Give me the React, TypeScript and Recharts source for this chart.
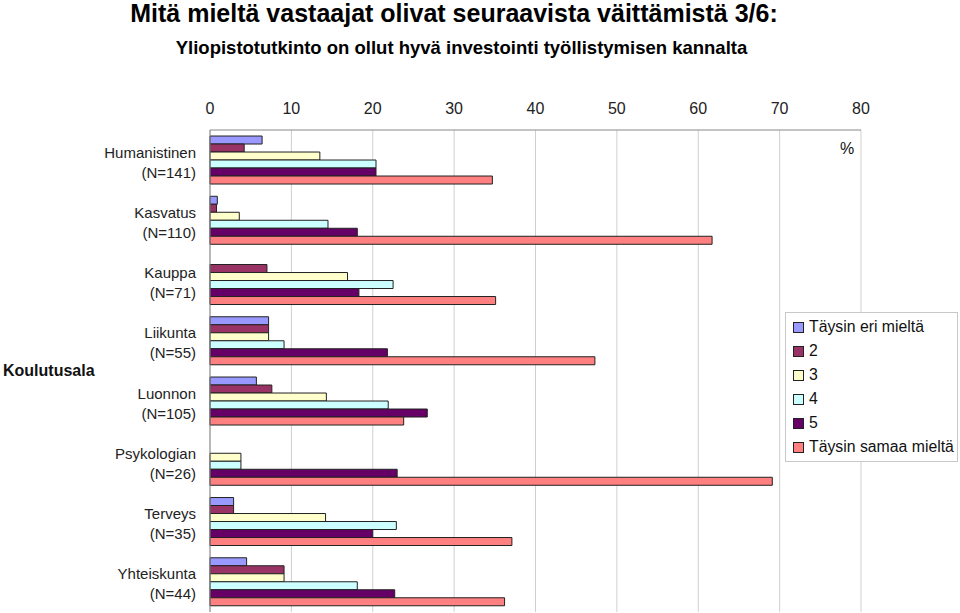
import React from 'react';
import { BarChart, Bar, XAxis, YAxis, CartesianGrid, Legend } from 'recharts';

const categories = ['Humanistinen', 'Kasvatus', 'Kauppa', 'Liikunta', 'Luonnon', 'Psykologian', 'Terveys', 'Yhteiskunta'];
const counts = ['(N=141)', '(N=110)', '(N=71)', '(N=55)', '(N=105)', '(N=26)', '(N=35)', '(N=44)'];
const seriesNames = ['Täysin eri mieltä', '2', '3', '4', '5', 'Täysin samaa mieltä'];
const s1 = [6.4, 0.9, 0, 7.2, 5.7, 0, 2.9, 4.5];
const s2 = [4.2, 0.8, 7.0, 7.2, 7.6, 0, 2.9, 9.1];
const s3 = [13.5, 3.6, 16.9, 7.2, 14.3, 3.8, 14.2, 9.1];
const s4 = [20.4, 14.5, 22.5, 9.1, 21.9, 3.8, 22.9, 18.1];
const s5 = [20.4, 18.1, 18.3, 21.8, 26.7, 23.0, 20.0, 22.7];
const s6 = [34.7, 61.7, 35.1, 47.3, 23.8, 69.1, 37.1, 36.2];
const xTicks = [0, 10, 20, 30, 40, 50, 60, 70, 80];
const colors = ['#9999FF', '#993366', '#FFFFCC', '#CCFFFF', '#660066', '#FF8080'];

const allSeries = [s1, s2, s3, s4, s5, s6];
const keys = ['s1', 's2', 's3', 's4', 's5', 's6'];

const data = categories.map((c, i) => {
  const row: any = { name: c };
  keys.forEach((k, j) => { row[k] = allSeries[j][i]; });
  return row;
});

const FONT = '"Liberation Sans", Arial, sans-serif';

const YTick = (props: any) => {
  const { x, y, payload } = props;
  const i = categories.indexOf(payload.value);
  return (
    <g>
      <text x={x} y={y - 8} textAnchor="end" dominantBaseline="central" fontSize={15} fontFamily={FONT} fill="#222">{payload.value}</text>
      <text x={x} y={y + 12} textAnchor="end" dominantBaseline="central" fontSize={15} fontFamily={FONT} fill="#222">{counts[i]}</text>
    </g>
  );
};

const XTick = (props: any) => {
  const { x, y, payload } = props;
  return (
    <text x={x} y={y} textAnchor="middle" dominantBaseline="central" fontSize={16} fontFamily={FONT} fill="#222">{payload.value}</text>
  );
};

const LegendBox = () => (
  <div style={{ border: '1px solid #c8c8c8', background: '#fff', width: 173, height: 150, boxSizing: 'border-box', padding: '2px 0 0 7px', fontFamily: FONT, fontSize: 15.8, color: '#111' }}>
    {seriesNames.map((n, i) => (
      <div key={n} style={{ display: 'flex', alignItems: 'center', height: 24 }}>
        <span style={{ display: 'inline-block', width: 9, height: 9, background: colors[i], border: '1px solid #222', marginRight: 5 }} />
        <span>{n}</span>
      </div>
    ))}
  </div>
);

export default function App() {
  return (
    <div style={{ position: 'absolute', left: 0, top: 0, width: 960, height: 613, background: '#fff' }}>
      <BarChart
        width={960}
        height={613}
        data={data}
        layout="vertical"
        margin={{ top: 100, right: 99, bottom: 1, left: 0 }}
        barCategoryGap="10%"
        barGap={0}
      >
        <CartesianGrid horizontal={false} stroke="#cfcfcf" />
        <XAxis
          type="number"
          orientation="top"
          domain={[0, 80]}
          ticks={xTicks}
          height={30}
          tickLine={false}
          tickSize={0}
          tickMargin={22}
          axisLine={{ stroke: '#888' }}
          tick={<XTick />}
          interval={0}
        />
        <YAxis
          type="category"
          dataKey="name"
          width={210}
          tickLine={false}
          tickSize={0}
          tickMargin={14}
          axisLine={{ stroke: '#888' }}
          tick={<YTick />}
          interval={0}
        />
        <Legend
          layout="vertical"
          align="center"
          verticalAlign="middle"
          content={<LegendBox />}
          wrapperStyle={{ position: 'absolute', left: 785, top: 312, width: 173, height: 150 }}
        />
        {keys.map((k, j) => (
          <Bar key={k} dataKey={k} name={seriesNames[j]} fill={colors[j]} stroke="#222" strokeWidth={1} isAnimationActive={false} />
        ))}
      </BarChart>
      <div style={{ position: 'absolute', left: 0, top: -1, width: 908, textAlign: 'center', fontFamily: FONT, fontWeight: 'bold', fontSize: 25, lineHeight: '28px', color: '#000' }}>
        Mitä mieltä vastaajat olivat seuraavista väittämistä 3/6:
      </div>
      <div style={{ position: 'absolute', left: 0, top: 37, width: 923, textAlign: 'center', fontFamily: FONT, fontWeight: 'bold', fontSize: 18.5, lineHeight: '22px', color: '#000' }}>
        Yliopistotutkinto on ollut hyvä investointi työllistymisen kannalta
      </div>
      <div style={{ position: 'absolute', left: 840, top: 140, fontFamily: FONT, fontSize: 16, color: '#111' }}>%</div>
      <div style={{ position: 'absolute', left: 3, top: 362, fontFamily: FONT, fontWeight: 'bold', fontSize: 16, color: '#111' }}>Koulutusala</div>
    </div>
  );
}
